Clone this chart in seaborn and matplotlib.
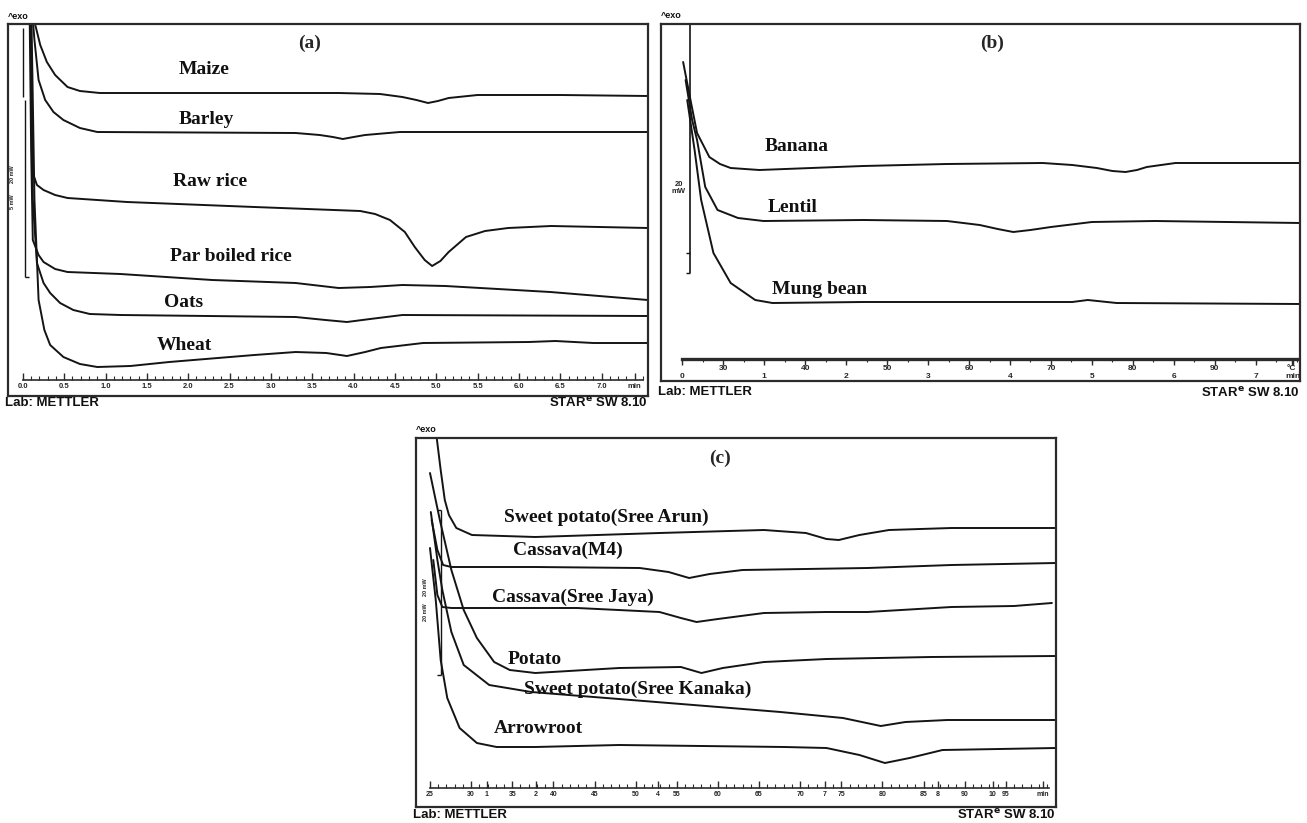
import numpy as np
import pandas as pd
import matplotlib
matplotlib.use("Agg")
import matplotlib.pyplot as plt
from matplotlib.ticker import FixedLocator
import seaborn as sns

# ---------------- Panel (a): x = time (min), y = heat flow (a.u.) ----------------
a_maize_x = [0.12, 0.15, 0.21, 0.29, 0.39, 0.54, 0.69, 0.93, 2.29, 3.82, 4.32, 4.59, 4.76, 4.90, 5.02, 5.15, 5.50, 6.50, 7.56]
a_maize_y = [396, 371, 351, 334, 321, 309, 305, 303, 303, 303, 302, 299, 296, 293, 295, 298, 301, 301, 300]
a_barley_x = [0.10, 0.14, 0.19, 0.27, 0.37, 0.49, 0.69, 0.90, 3.30, 3.59, 3.75, 3.87, 4.00, 4.14, 4.56, 7.56]
a_barley_y = [396, 356, 316, 296, 284, 276, 268, 264, 263, 261, 259, 257, 259, 261, 264, 264]
a_rawrice_x = [0.09, 0.11, 0.12, 0.17, 0.25, 0.39, 0.54, 1.26, 2.80, 4.08, 4.26, 4.44, 4.62, 4.74, 4.86, 4.95, 5.05, 5.15, 5.36, 5.59, 5.87, 6.39, 7.56]
a_rawrice_y = [396, 296, 223, 211, 206, 201, 198, 194, 189, 185, 182, 176, 164, 149, 136, 130, 135, 144, 159, 165, 168, 170, 168]
a_parboiled_x = [0.08, 0.10, 0.12, 0.19, 0.25, 0.39, 0.54, 1.18, 2.29, 3.30, 3.82, 4.20, 4.59, 5.11, 6.38, 7.56]
a_parboiled_y = [396, 246, 156, 141, 134, 127, 124, 122, 116, 113, 108, 109, 111, 110, 104, 96]
a_oats_x = [0.09, 0.12, 0.17, 0.25, 0.33, 0.45, 0.61, 0.81, 1.18, 3.30, 3.66, 3.92, 4.20, 4.59, 7.56]
a_oats_y = [396, 196, 133, 113, 103, 93, 86, 82, 81, 79, 76, 74, 77, 81, 80]
a_wheat_x = [0.10, 0.14, 0.19, 0.26, 0.33, 0.49, 0.69, 0.90, 1.30, 1.77, 2.80, 3.30, 3.67, 3.92, 4.14, 4.33, 4.84, 6.12, 6.44, 6.90, 7.56]
a_wheat_y = [396, 196, 96, 66, 51, 39, 32, 29, 30, 34, 41, 44, 43, 40, 44, 48, 53, 54, 55, 53, 53]
a_names = ["Maize", "Barley", "Raw rice", "Par boiled rice", "Oats", "Wheat"]
a_label_x = [1.88, 1.88, 1.82, 1.78, 1.71, 1.62]
a_label_y = [326, 276, 215, 140, 94, 51]
a_tick_pos = [0.0, 0.5, 1.0, 1.5, 2.0, 2.5, 3.0, 3.5, 4.0, 4.5, 5.0, 5.5, 6.0, 6.5, 7.0, 7.4]
a_tick_lab = ["0.0", "0.5", "1.0", "1.5", "2.0", "2.5", "3.0", "3.5", "4.0", "4.5", "5.0", "5.5", "6.0", "6.5", "7.0", "min"]

# ---------------- Panel (b): x = temperature (°C) ----------------
b_banana_x = [25.1, 26.0, 26.8, 28.3, 29.6, 30.9, 34.4, 47.1, 57.3, 69.0, 72.6, 75.6, 77.5, 79.1, 80.5, 81.7, 85.2, 100.4]
b_banana_y = [319, 281, 248, 224, 217, 213, 211, 215, 217, 218, 216, 213, 210, 209, 211, 214, 218, 218]
b_lentil_x = [25.4, 26.2, 26.8, 27.8, 29.3, 31.8, 34.9, 47.1, 57.3, 61.3, 63.5, 65.4, 67.5, 70.0, 75.0, 82.7, 100.4]
b_lentil_y = [301, 261, 241, 194, 171, 163, 160, 161, 160, 156, 152, 149, 151, 154, 159, 160, 158]
b_mung_x = [25.6, 26.5, 27.3, 28.8, 30.9, 33.9, 36.0, 47.1, 72.6, 74.5, 78.0, 100.4]
b_mung_y = [281, 231, 181, 128, 98, 81, 78, 79, 79, 81, 78, 77]
b_names = ["Banana", "Lentil", "Mung bean"]
b_label_x = [35.1, 35.4, 36.0]
b_label_y = [234, 173, 91]
b_temp_pos = [30, 40, 50, 60, 70, 80, 90, 99.4]
b_temp_lab = ["30", "40", "50", "60", "70", "80", "90", "°C"]
b_min_pos = [0, 1, 2, 3, 4, 5, 6, 7, 7.45]
b_min_lab = ["0", "1", "2", "3", "4", "5", "6", "7", "min"]

# ---------------- Panel (c): x = temperature (°C) ----------------
c_arun_x = [25.7, 26.3, 26.8, 27.3, 28.2, 30.1, 37.8, 52.9, 65.6, 70.7, 73.2, 74.7, 77.2, 80.8, 88.4, 101.1]
c_arun_y = [377, 337, 307, 292, 279, 272, 270, 274, 277, 274, 268, 267, 272, 277, 279, 279]
c_m4_x = [25.2, 25.9, 26.6, 27.6, 37.8, 50.5, 54.0, 56.5, 59.0, 63.0, 78.2, 88.4, 101.1]
c_m4_y = [287, 257, 242, 240, 240, 239, 235, 229, 233, 237, 239, 242, 244]
c_jaya_x = [25.4, 25.9, 26.5, 27.6, 42.9, 52.9, 55.5, 57.4, 60.0, 65.6, 73.2, 78.2, 88.4, 96.0, 100.6]
c_jaya_y = [247, 212, 200, 199, 199, 195, 189, 185, 188, 194, 195, 195, 200, 201, 204]
c_potato_x = [25.0, 26.2, 27.6, 29.1, 30.7, 32.8, 34.7, 37.8, 48.0, 55.5, 58.0, 60.6, 65.6, 73.2, 85.9, 101.1]
c_potato_y = [334, 287, 237, 197, 169, 145, 137, 134, 139, 140, 134, 139, 145, 148, 150, 151]
c_kanaka_x = [25.1, 25.9, 26.5, 27.6, 29.1, 32.2, 37.3, 52.5, 67.6, 75.2, 77.5, 79.8, 82.8, 87.9, 101.1]
c_kanaka_y = [295, 247, 217, 175, 142, 122, 115, 105, 95, 89, 85, 81, 85, 87, 87]
c_arrow_x = [25.0, 25.7, 26.3, 27.1, 28.6, 30.7, 33.1, 37.8, 48.0, 68.1, 73.2, 77.2, 80.3, 83.3, 87.3, 101.1]
c_arrow_y = [259, 207, 147, 109, 79, 64, 60, 60, 62, 60, 59, 52, 44, 49, 57, 59]
c_names = ["Sweet potato(Sree Arun)", "Cassava(M4)", "Cassava(Sree Jaya)", "Potato",
           "Sweet potato(Sree Kanaka)", "Arrowroot"]
c_label_x = [34.0, 35.1, 32.5, 34.5, 36.4, 32.8]
c_label_y = [290, 257, 210, 148, 118, 79]
c_tick_pos = [25, 30, 31.9, 35, 37.9, 40, 45, 50, 52.7, 55, 60, 65, 70, 73.0, 75, 80, 85, 86.7, 90, 93.4, 95, 99.5]
c_tick_lab = ["25", "30", "1", "35", "2", "40", "45", "50", "4", "55", "60", "65", "70", "7", "75",
              "80", "85", "8", "90", "10", "95", "min"]

# ---------------- styling ----------------
sns.set_style("white")
plt.rcParams["font.family"] = ["Liberation Sans", "DejaVu Sans"]
LINE = "#141414"
FRAME = "#2b2b2b"
SERIF = "Liberation Serif"

fig = plt.figure(figsize=(13.07, 8.23), dpi=100)
fig.patch.set_facecolor("white")
ax_a = fig.add_axes([0.00612, 0.51883, 0.4896, 0.45201])
ax_b = fig.add_axes([0.50574, 0.53706, 0.4889, 0.43378])
ax_c = fig.add_axes([0.31829, 0.01944, 0.48967, 0.44836])


def draw_curves(ax, xs, ys, names):
    df = pd.concat([pd.DataFrame({"x": x, "y": y, "sample": n}) for x, y, n in zip(xs, ys, names)],
                   ignore_index=True)
    sns.lineplot(data=df, x="x", y="y", units="sample", estimator=None, color=LINE,
                 lw=1.4, ax=ax, legend=False, sort=False)


def style_frame(ax, xlim, ylim):
    ax.set_xlim(xlim)
    ax.set_ylim(ylim)
    ax.set_xticks([])
    ax.set_yticks([])
    ax.set_xlabel("")
    ax.set_ylabel("")
    for s in ax.spines.values():
        s.set_visible(True)
        s.set_linewidth(1.6)
        s.set_color(FRAME)


def add_labels(ax, xs, ys, names):
    for x, y, n in zip(xs, ys, names):
        ax.text(x, y, n, ha="left", va="center", fontsize=14, fontweight="bold", family=SERIF, color="#111")


def footer(ax, dy_bottom, dy_top):
    ax.text(-0.004, dy_bottom, "Lab: METTLER", transform=ax.transAxes, ha="left", va="center",
            fontsize=9.5, fontweight="bold", color="#111")
    ax.text(1.0, dy_bottom, r"STAR$^\mathbf{e}$ SW 8.10", transform=ax.transAxes, ha="right", va="center",
            fontsize=9.5, fontweight="bold", color="#111")
    ax.text(0.0, dy_top, "^exo", transform=ax.transAxes, ha="left", va="center",
            fontsize=6.5, fontweight="bold", color="#111")


# ---- (a) ----
draw_curves(ax_a, [a_maize_x, a_barley_x, a_rawrice_x, a_parboiled_x, a_oats_x, a_wheat_x],
            [a_maize_y, a_barley_y, a_rawrice_y, a_parboiled_y, a_oats_y, a_wheat_y], a_names)
style_frame(ax_a, (-0.18, 7.56), (0, 372))
add_labels(ax_a, a_label_x, a_label_y, a_names)
ax_a.text(3.47, 353, "(a)", ha="center", va="center", fontsize=14, fontweight="bold", family=SERIF)
ax_a.vlines([0.0, 0.02], [299, 119], [368, 296], color=LINE, lw=1.0)
ax_a.hlines([119], [0.02], [0.07], color=LINE, lw=1.0)
ax_a.text(-0.12, 222, "20 mW", rotation=90, fontsize=4, fontweight="bold", ha="center", va="center")
ax_a.text(-0.12, 194, "5 mW", rotation=90, fontsize=4, fontweight="bold", ha="center", va="center")
sec_a = ax_a.secondary_xaxis(0.043)
sec_a.set_xticks(a_tick_pos, labels=a_tick_lab, fontweight="bold", fontsize=5.5)
sec_a.xaxis.set_minor_locator(FixedLocator(np.arange(0, 7.51, 0.1)))
sec_a.tick_params(which="major", direction="in", length=5, width=1.0, pad=2, color=FRAME)
sec_a.tick_params(which="minor", direction="in", length=3, width=0.8, color=FRAME)
sec_a.spines["bottom"].set_bounds(0, 7.5)
sec_a.spines["bottom"].set_linewidth(1.2)
sec_a.spines["bottom"].set_color(FRAME)
footer(ax_a, -0.019, 1.019)

# ---- (b) ----
draw_curves(ax_b, [b_banana_x, b_lentil_x, b_mung_x], [b_banana_y, b_lentil_y, b_mung_y], b_names)
style_frame(ax_b, (22.4, 100.4), (0, 357))
add_labels(ax_b, b_label_x, b_label_y, b_names)
ax_b.text(62.8, 338, "(b)", ha="center", va="center", fontsize=14, fontweight="bold", family=SERIF)
ax_b.vlines([26.0], [108], [357], color=LINE, lw=1.2)
ax_b.hlines([128, 108], [25.5, 25.5], [26.0, 26.0], color=LINE, lw=1.0)
ax_b.text(24.6, 193, "20\nmW", fontsize=5.5, fontweight="bold", ha="center", va="center", linespacing=1.0)
sec_b = ax_b.secondary_xaxis(0.0616)
sec_b.set_xticks(b_temp_pos, labels=b_temp_lab, fontweight="bold", fontsize=6)
sec_b.xaxis.set_minor_locator(FixedLocator(np.arange(25, 100.1, 2.5)))
sec_b.tick_params(which="major", direction="out", length=4, width=1.0, pad=0.5, color=FRAME)
sec_b.tick_params(which="minor", direction="out", length=2.5, width=0.8, color=FRAME)
sec_b.spines["bottom"].set_bounds(25, 100)
sec_b.spines["bottom"].set_linewidth(2.4)
sec_b.spines["bottom"].set_color(FRAME)
sec_b2 = ax_b.secondary_xaxis(0.0616, functions=(lambda t: (t - 25) / 10.0, lambda m: m * 10.0 + 25))
sec_b2.set_xticks(b_min_pos, labels=b_min_lab, fontweight="bold", fontsize=6)
sec_b2.tick_params(which="major", direction="out", length=4, width=1.0, pad=6, color=FRAME)
sec_b2.spines["bottom"].set_visible(False)
footer(ax_b, -0.032, 1.025)

# ---- (c) ----
draw_curves(ax_c, [c_arun_x, c_m4_x, c_jaya_x, c_potato_x, c_kanaka_x, c_arrow_x],
            [c_arun_y, c_m4_y, c_jaya_y, c_potato_y, c_kanaka_y, c_arrow_y], c_names)
style_frame(ax_c, (23.3, 101.1), (0, 369))
add_labels(ax_c, c_label_x, c_label_y, c_names)
ax_c.text(60.2, 349, "(c)", ha="center", va="center", fontsize=14, fontweight="bold", family=SERIF)
ax_c.vlines([26.3], [132], [297], color=LINE, lw=1.0)
ax_c.hlines([297, 132], [25.8, 25.8], [26.3, 26.3], color=LINE, lw=1.0)
ax_c.text(24.4, 220, "20 mW", rotation=90, fontsize=4, fontweight="bold", ha="center", va="center")
ax_c.text(24.4, 195, "20 mW", rotation=90, fontsize=4, fontweight="bold", ha="center", va="center")
sec_c = ax_c.secondary_xaxis(0.0515)
sec_c.set_xticks(c_tick_pos, labels=c_tick_lab, fontweight="bold", fontsize=5)
sec_c.xaxis.set_minor_locator(FixedLocator(np.arange(25, 100.3, 1.0)))
sec_c.tick_params(which="major", direction="in", length=5, width=1.0, pad=2, color=FRAME)
sec_c.tick_params(which="minor", direction="in", length=3, width=0.8, color=FRAME)
sec_c.spines["bottom"].set_bounds(25, 100.3)
sec_c.spines["bottom"].set_linewidth(1.2)
sec_c.spines["bottom"].set_color(FRAME)
footer(ax_c, -0.022, 1.022)

fig.savefig("out.png", dpi=100, facecolor="white")
